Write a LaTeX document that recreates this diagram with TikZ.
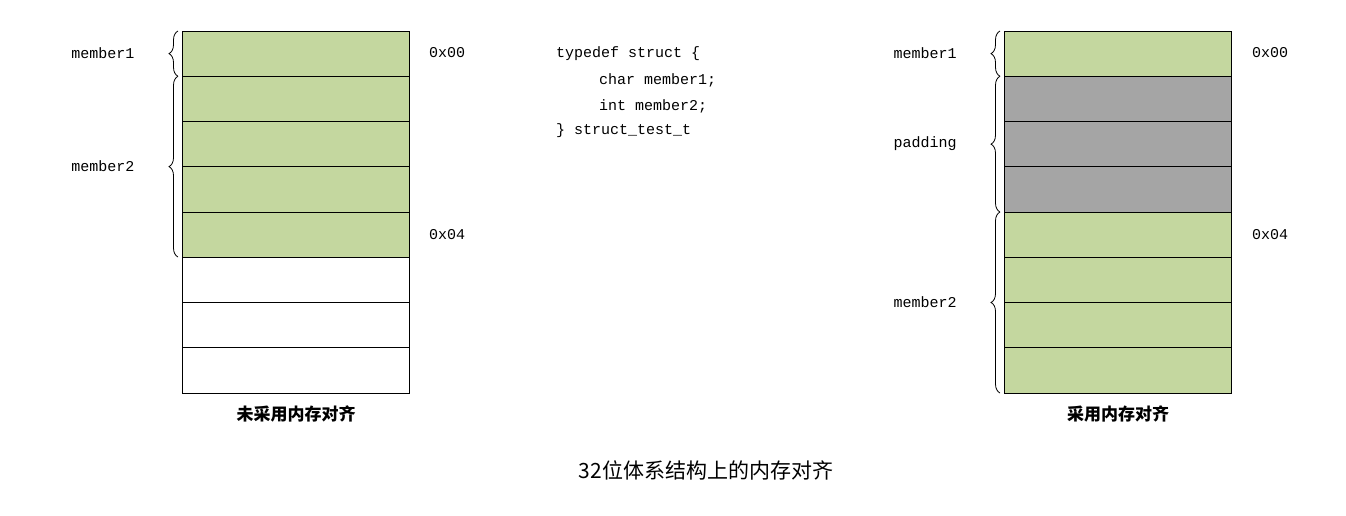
\documentclass[tikz,border=0pt]{standalone}
\usepackage{fontspec}
\setmonofont{Liberation Mono}
\newfontfamily\cjk{Noto Sans CJK SC}
\usetikzlibrary{decorations.pathreplacing}
\definecolor{gr}{HTML}{C4D79F}
\definecolor{pd}{HTML}{A5A5A5}
\tikzset{cell/.style={draw=black,line width=0.8pt},
 br/.style={decorate,decoration={brace,amplitude=9pt},line width=0.8pt},
 lab/.style={font=\ttfamily\fontsize{15}{15}\selectfont,inner sep=0pt},
 cjkcap/.style={font=\cjk\bfseries\fontsize{17}{17}\selectfont,inner sep=0pt}}
\begin{document}
\begin{tikzpicture}[x=1pt,y=-1pt]
\useasboundingbox (0,0) rectangle (1346,515);
% left column
\foreach \i in {0,...,7}{
  \pgfmathsetmacro\ya{31+45.25*\i}\pgfmathsetmacro\yb{31+45.25*(\i+1)}
  \ifnum\i<5 \fill[gr] (182,\ya) rectangle (409,\yb);\fi
  \draw[cell] (182,\ya) rectangle (409,\yb);
}
% right column
\foreach \i in {0,...,7}{
  \pgfmathsetmacro\ya{31+45.25*\i}\pgfmathsetmacro\yb{31+45.25*(\i+1)}
  \ifnum\i>0\ifnum\i<4 \fill[pd] (1004,\ya) rectangle (1231,\yb);\else\fill[gr] (1004,\ya) rectangle (1231,\yb);\fi\else\fill[gr] (1004,\ya) rectangle (1231,\yb);\fi
  \draw[cell] (1004,\ya) rectangle (1231,\yb);
}
\coordinate (l0) at (178,31); \coordinate (l1) at (178,76.25); \coordinate (l2) at (178,257);
\draw[br] (l1) -- (l0);
\draw[br] (l2) -- (l1);
\coordinate (r0) at (1000,31); \coordinate (r1) at (1000,76.25); \coordinate (r2) at (1000,212); \coordinate (r3) at (1000,393);
\draw[br] (r1) -- (r0);
\draw[br] (r2) -- (r1);
\draw[br] (r3) -- (r2);
\node[lab] (m1) at (103,53) {member1};
\node[lab] (m2) at (103,166) {member2};
\node[lab] (a0) at (447,53) {0x00};
\node[lab] (a4) at (447,235) {0x04};
\node[lab] (rm1) at (925,53) {member1};
\node[lab] (rp) at (925,144) {padding};
\node[lab] (rm2) at (925,302) {member2};
\node[lab] (ra0) at (1270,53) {0x00};
\node[lab] (ra4) at (1270,235) {0x04};
\node[lab,anchor=west] (c1) at (556,54) {typedef struct \{};
\node[lab,anchor=west] (c2) at (599,80) {char member1;};
\node[lab,anchor=west] (c3) at (599,106) {int member2;};
\node[lab,anchor=west] (c4) at (556,131) {\} struct\_test\_t};
\node[cjkcap] (t1) at (296,414) {未采用内存对齐};
\node[cjkcap] (t2) at (1118,414) {采用内存对齐};
\node[font=\cjk\fontsize{21}{21}\selectfont,inner sep=0pt] (t3) at (706,470) {32位体系结构上的内存对齐};
\end{tikzpicture}
\end{document}
